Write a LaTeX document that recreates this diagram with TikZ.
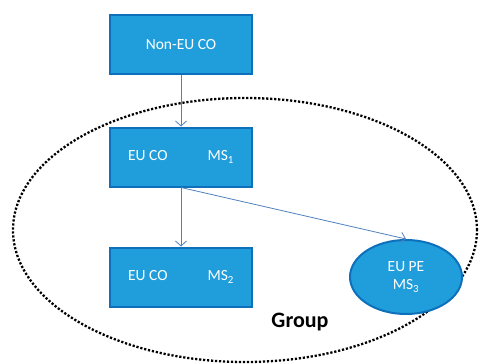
\documentclass[tikz,border=0pt]{standalone}
\usepackage{fontspec}
\setmainfont{Carlito}
\usetikzlibrary{shapes.geometric,arrows.meta}
\definecolor{boxfill}{RGB}{32,158,219}
\definecolor{boxline}{RGB}{14,112,186}
\definecolor{arrowblue}{RGB}{79,129,189}

\begin{document}
\begin{tikzpicture}[
    x=1pt,y=-1pt,
    co/.style={rectangle,draw=boxline,fill=boxfill,line width=2pt,minimum width=142pt,minimum height=59pt,text=white,font=\fontsize{15.5}{18}\selectfont},
    pe/.style={ellipse,draw=boxline,fill=boxfill,line width=2pt,minimum width=112pt,minimum height=74pt,inner sep=0pt,text=white,align=center,font=\fontsize{15.5}{19}\selectfont},
    link/.style={draw=arrowblue,line width=0.8pt,-{Straight Barb[length=5pt,width=11pt]}},
    grp/.style={ellipse,draw=black,line width=2.3pt,dash pattern=on 2.2pt off 1.8pt,minimum width=464pt,minimum height=264pt},
    ]
    \useasboundingbox (0,0) rectangle (485,364);
    \node[grp] (G) at (245,230) {};
    \node[font=\fontsize{22}{26}\selectfont\bfseries] (Glabel) at (300,322) {Group};
    \node[co] (NEU) at (181,44.5) {Non-EU CO};
    \node[co] (MS1) at (181,157) {EU CO\hspace{40pt}MS\textsubscript{1}};
    \node[co] (MS2) at (181,277) {EU CO\hspace{40pt}MS\textsubscript{2}};
    \node[pe] (PE) at (406,277) {EU PE\\[-1pt]MS\textsubscript{3}};
    \draw[link] (NEU) -- (MS1);
    \draw[link] (MS1) -- (MS2);
    \draw[link] (MS1.south) -- (PE.north);
\end{tikzpicture}
\end{document}
